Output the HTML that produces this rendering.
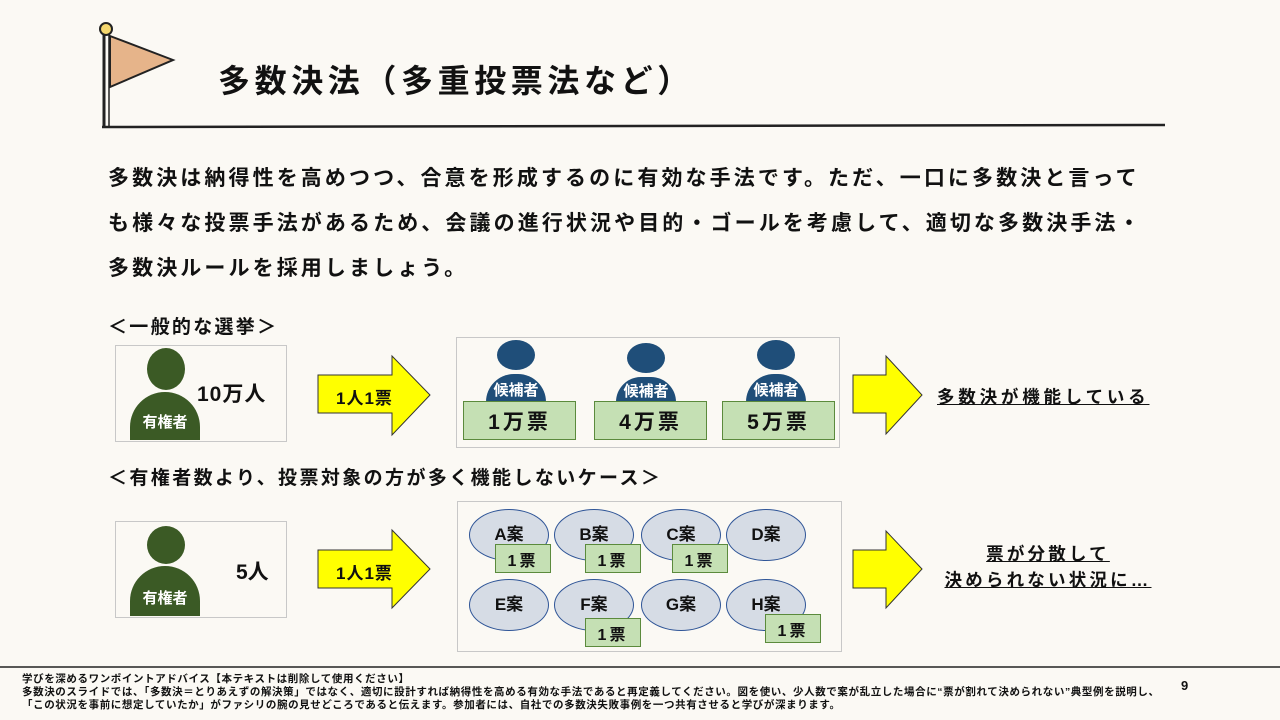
<!DOCTYPE html><html><head><meta charset="utf-8"><style>
body{margin:0;width:1280px;height:720px;background:#fbf9f4;position:relative;overflow:hidden;font-family:"Liberation Sans","Noto Sans CJK JP",sans-serif;color:#111}
.a{position:absolute}
.t{font-weight:bold;white-space:nowrap}
.box{position:absolute;border:1px solid #c8c8c8;background:#fbf9f4}
.vote{position:absolute;background:#c5e0b4;border:1px solid #5b8a3c;font-weight:bold;display:flex;align-items:center;justify-content:center;letter-spacing:3px}
.ell{position:absolute;width:80px;height:52px;border-radius:50%;background:#d6dce5;border:1px solid #2f5597;display:flex;align-items:center;justify-content:center;font-weight:bold;font-size:17px;box-sizing:border-box;padding-bottom:6px}
</style></head><body>
<svg class="a" style="left:0;top:0" width="1280" height="720">
<line x1="104" y1="30" x2="104" y2="128" stroke="#222" stroke-width="3"/>
<line x1="109" y1="34" x2="109" y2="128" stroke="#222" stroke-width="1.5"/>
<circle cx="106" cy="29" r="6" fill="#f5d76e" stroke="#222" stroke-width="2"/>
<polygon points="110,36 173,60 110,87" fill="#e6b48a" stroke="#222" stroke-width="2"/>
<line x1="102" y1="127" x2="1165" y2="125" stroke="#222" stroke-width="2.5"/>
<line x1="0" y1="667" x2="1280" y2="667" stroke="#222" stroke-width="1.5"/>
<polygon points="318,375 392,375 392,356 430,395 392,435 392,413 318,413" fill="#ffff00" stroke="#333" stroke-width="1"/>
<polygon points="853,375 886,375 886,356 922,395 886,434 886,413 853,413" fill="#ffff00" stroke="#333" stroke-width="1"/>
<polygon points="318,550 392,550 392,530 430,569 392,608 392,588 318,588" fill="#ffff00" stroke="#333" stroke-width="1"/>
<polygon points="853,550 886,550 886,531 922,569 886,608 886,588 853,588" fill="#ffff00" stroke="#333" stroke-width="1"/>
</svg>
<div class="a t" style="left:218px;top:56px;font-size:32px;letter-spacing:4.6px">多数決法（多重投票法など）</div>
<div class="a t" style="left:108px;top:156px;font-size:21px;line-height:45px;letter-spacing:3.1px">多数決は納得性を高めつつ、合意を形成するのに有効な手法です。ただ、一口に多数決と言って<br>も様々な投票手法があるため、会議の進行状況や目的・ゴールを考慮して、適切な多数決手法・<br>多数決ルールを採用しましょう。</div>
<div class="a t" style="left:108px;top:312px;font-size:19px;letter-spacing:2.3px">＜一般的な選挙＞</div>
<div class="a t" style="left:108px;top:463px;font-size:19px;letter-spacing:2.4px">＜有権者数より、投票対象の方が多く機能しないケース＞</div>

<div class="box" style="left:115px;top:345px;width:170px;height:95px"></div>
<div class="a" style="left:147px;top:348px;width:38px;height:42px;border-radius:50%;background:#3b5a25"></div>
<div class="a t" style="left:130px;top:392px;width:70px;height:48px;border-radius:35px 35px 0 0;background:#3b5a25;color:#fff;font-size:15px;text-align:center;line-height:62px">有権者</div>
<div class="a t" style="left:197px;top:378px;font-size:21px;letter-spacing:1px">10万人</div>
<div class="a t" style="left:336px;top:384px;font-size:17px;letter-spacing:1px">1人1票</div>

<div class="box" style="left:456px;top:337px;width:382px;height:109px"></div>
<div class="a" style="left:497px;top:340px;width:38px;height:30px;border-radius:50%;background:#1f4e79"></div>
<div class="a t" style="left:486px;top:374px;width:60px;height:28px;border-radius:30px 30px 0 0;background:#1f4e79;color:#fff;font-size:15px;text-align:center;line-height:34px">候補者</div>
<div class="a" style="left:627px;top:343px;width:38px;height:30px;border-radius:50%;background:#1f4e79"></div>
<div class="a t" style="left:616px;top:377px;width:60px;height:25px;border-radius:30px 30px 0 0;background:#1f4e79;color:#fff;font-size:15px;text-align:center;line-height:30px">候補者</div>
<div class="a" style="left:757px;top:340px;width:38px;height:30px;border-radius:50%;background:#1f4e79"></div>
<div class="a t" style="left:746px;top:374px;width:60px;height:28px;border-radius:30px 30px 0 0;background:#1f4e79;color:#fff;font-size:15px;text-align:center;line-height:34px">候補者</div>
<div class="vote" style="left:463px;top:401px;width:111px;height:37px;font-size:21px">1万票</div>
<div class="vote" style="left:594px;top:401px;width:111px;height:37px;font-size:21px">4万票</div>
<div class="vote" style="left:722px;top:401px;width:111px;height:37px;font-size:21px">5万票</div>
<div class="a t" style="left:937px;top:384px;font-size:17.5px;letter-spacing:3.8px;text-decoration:underline">多数決が機能している</div>

<div class="box" style="left:115px;top:521px;width:170px;height:95px"></div>
<div class="a" style="left:147px;top:526px;width:38px;height:38px;border-radius:50%;background:#3b5a25"></div>
<div class="a t" style="left:130px;top:566px;width:70px;height:50px;border-radius:35px 35px 0 0;background:#3b5a25;color:#fff;font-size:15px;text-align:center;line-height:66px">有権者</div>
<div class="a t" style="left:236px;top:556px;font-size:21px">5人</div>
<div class="a t" style="left:336px;top:559px;font-size:17px;letter-spacing:1px">1人1票</div>

<div class="box" style="left:457px;top:501px;width:383px;height:149px"></div>
<div class="ell" style="left:469px;top:509px">A案</div>
<div class="ell" style="left:554px;top:509px">B案</div>
<div class="ell" style="left:641px;top:509px">C案</div>
<div class="ell" style="left:726px;top:509px">D案</div>
<div class="ell" style="left:469px;top:579px">E案</div>
<div class="ell" style="left:554px;top:579px">F案</div>
<div class="ell" style="left:641px;top:579px">G案</div>
<div class="ell" style="left:726px;top:579px">H案</div>
<div class="vote" style="left:495px;top:544px;width:54px;height:27px;font-size:16px">1票</div>
<div class="vote" style="left:585px;top:544px;width:54px;height:27px;font-size:16px">1票</div>
<div class="vote" style="left:672px;top:544px;width:54px;height:27px;font-size:16px">1票</div>
<div class="vote" style="left:585px;top:618px;width:54px;height:27px;font-size:16px">1票</div>
<div class="vote" style="left:765px;top:614px;width:54px;height:27px;font-size:16px">1票</div>
<div class="a t" style="left:930px;top:541px;width:236px;text-align:center;font-size:17.5px;letter-spacing:3.2px;line-height:26px;text-decoration:underline">票が分散して<br>決められない状況に…</div>

<div class="a" style="left:22px;top:673px;font-size:10.5px;letter-spacing:0.6px;line-height:13px;font-weight:bold;white-space:nowrap">学びを深めるワンポイントアドバイス【本テキストは削除して使用ください】<br>多数決のスライドでは、「多数決＝とりあえずの解決策」ではなく、適切に設計すれば納得性を高める有効な手法であると再定義してください。図を使い、少人数で案が乱立した場合に“票が割れて決められない”典型例を説明し、<br>「この状況を事前に想定していたか」がファシリの腕の見せどころであると伝えます。参加者には、自社での多数決失敗事例を一つ共有させると学びが深まります。</div>
<div class="a t" style="left:1181px;top:678px;font-size:13px">9</div>
</body></html>
